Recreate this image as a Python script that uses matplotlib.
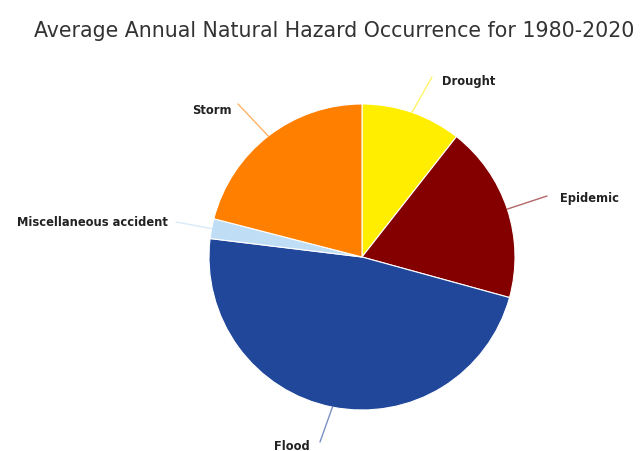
import numpy as np
import matplotlib
matplotlib.use("Agg")
import matplotlib.pyplot as plt

# Share of average annual hazard occurrences (%)
categories = ["Drought", "Epidemic", "Flood", "Miscellaneous accident", "Storm"]
shares = [10.6, 18.7, 47.7, 2.1, 21.0]
colors = ["#FFEE00", "#840000", "#21479B", "#BFDDF5", "#FF7F00"]

W, H = 644, 452
fig = plt.figure(figsize=(W / 100, H / 100), dpi=100)
ax = fig.add_axes([0, 0, 1, 1])

cx, cy, r = 362, H - 258, 153
wedges, _ = ax.pie(shares, colors=colors, startangle=90, counterclock=False,
                   center=(cx, cy), radius=r, frame=True,
                   wedgeprops=dict(edgecolor="white", linewidth=0.8))
ax.set_xlim(0, W)
ax.set_ylim(0, H)
ax.set_aspect("equal")
ax.axis("off")

fig.text(334.5 / W, 1 - 31 / H, "Average Annual Natural Hazard Occurrence for 1980-2020",
         ha="center", va="center", fontsize=14.8, color="#333333")

# label anchor (x, y in pixels from top-left), alignment, connector end
label_pos = {
    "Drought": (442, 82, "left", (432, 78)),
    "Epidemic": (560, 199, "left", (547, 197)),
    "Flood": (310, 447, "right", (320, 443)),
    "Miscellaneous accident": (168, 223, "right", (176, 223)),
    "Storm": (232, 110, "right", (238, 105)),
}

for w, name, col in zip(wedges, categories, colors):
    mid = np.deg2rad((w.theta1 + w.theta2) / 2)
    sx, sy = cx + r * np.cos(mid), cy + r * np.sin(mid)
    tx, ty, ha, (ex, ey) = label_pos[name]
    ax.plot([sx, ex], [sy, H - ey], color=col, lw=1.0, alpha=0.6,
            solid_capstyle="round")
    ax.text(tx, H - ty, name, ha=ha, va="center", fontsize=8.3,
            fontweight="bold", color="#222222")

fig.savefig("out.png", dpi=100, facecolor="white")
